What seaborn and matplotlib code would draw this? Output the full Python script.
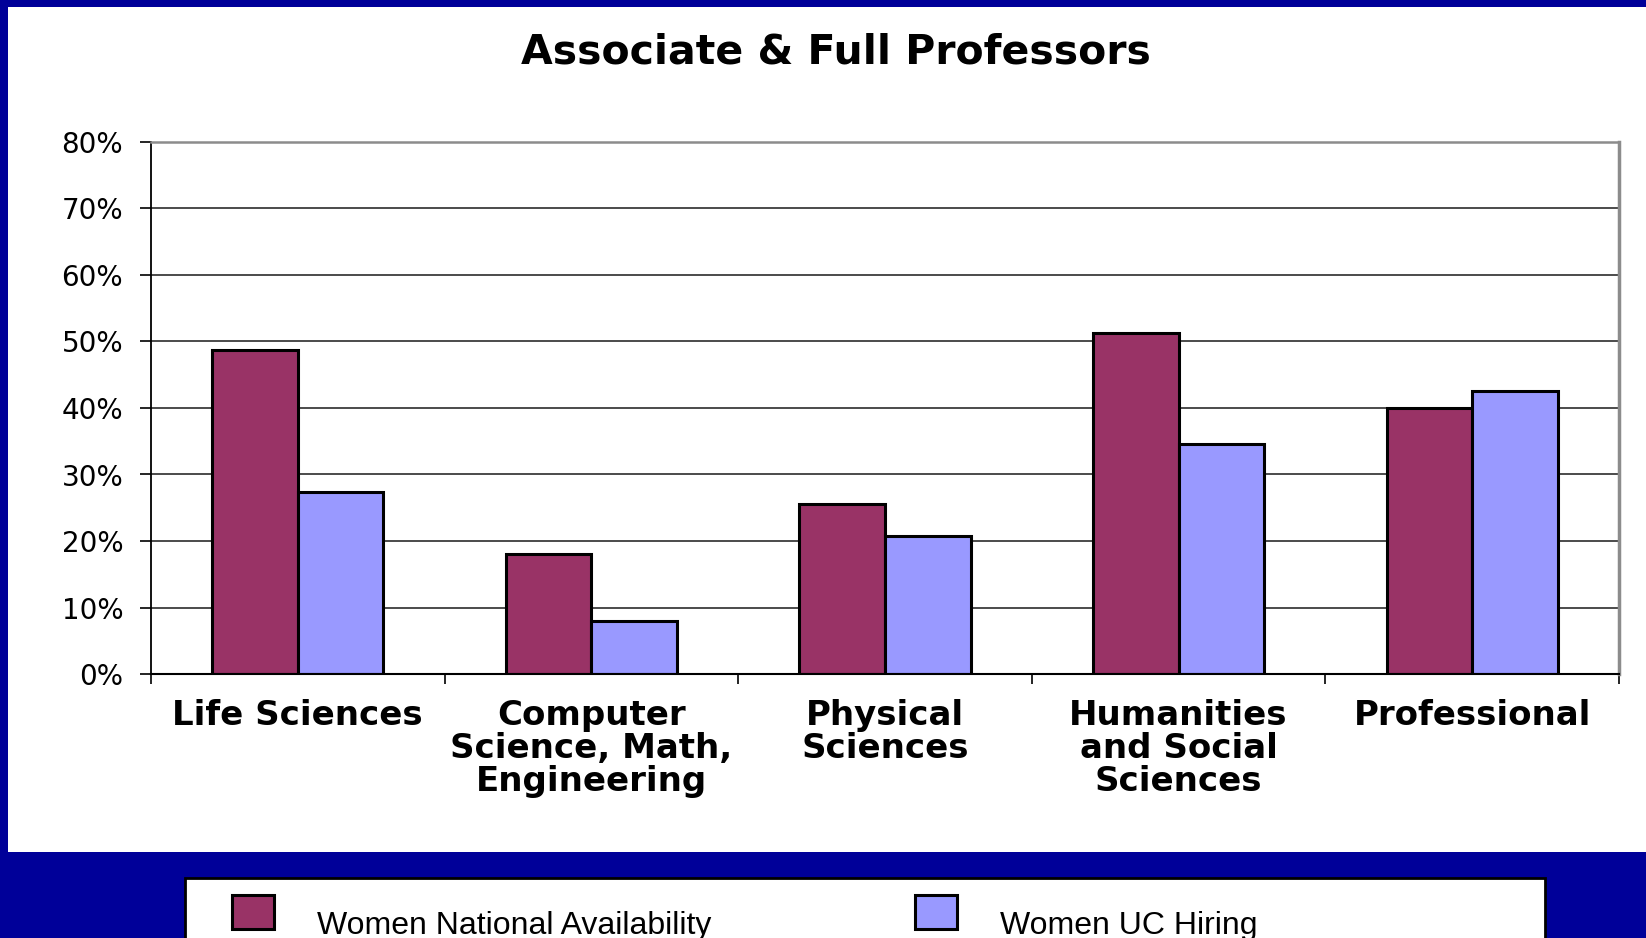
import seaborn as sns
import matplotlib.pyplot as plt
import numpy as np
import pandas as pd
from matplotlib.patches import Rectangle
from matplotlib.legend_handler import HandlerPatch

# data (percent of faculty)
fields = ['Life Sciences', 'Computer\nScience, Math,\nEngineering', 'Physical\nSciences',
          'Humanities\nand Social\nSciences', 'Professional']
national = [48.7, 18.1, 25.6, 51.3, 40.0]
uc_hiring = [27.3, 8.0, 20.8, 34.6, 42.6]
series = ['Women National Availability', 'Women UC Hiring']
colors = ['#993366', '#9999FF']
yticks = [0, 10, 20, 30, 40, 50, 60, 70, 80]

df = pd.DataFrame({'field': fields * 2,
                   'pct': national + uc_hiring,
                   'series': [series[0]] * len(fields) + [series[1]] * len(fields)})

sns.set_theme(style='white')
plt.rcParams['font.family'] = 'DejaVu Sans'
plt.rcParams['text.color'] = 'black'

W, H = 1646, 938
fig = plt.figure(figsize=(W / 100, H / 100), dpi=100, facecolor='#000099')

# white slide panel
fig.patches.append(Rectangle((8 / W, 1 - 852 / H), 1, (852 - 7) / H, transform=fig.transFigure,
                             facecolor='white', edgecolor='none', zorder=-1))

ax = fig.add_axes([151 / W, 1 - 674 / H, (1619 - 151) / W, (674 - 142) / H])
sns.barplot(data=df, x='field', y='pct', hue='series', palette=colors, saturation=1, width=0.583,
            edgecolor='black', linewidth=2.2, ax=ax)
handles, labels = ax.get_legend_handles_labels()
ax.legend_.remove()

ax.set_xlim(-0.5, len(fields) - 0.5)
ax.set_ylim(0, 80)
ax.set_yticks(yticks)
ax.set_yticklabels(['{}%'.format(v) for v in yticks], fontsize=20, color='black')
ax.set_xticks(range(len(fields)))
ax.set_xticklabels(fields, fontsize=24.5, fontweight='bold', color='black', linespacing=1.0)
ax.set_xticks(np.arange(-0.5, len(fields), 1), minor=True)
ax.tick_params(axis='x', which='major', length=0, pad=18)
ax.tick_params(axis='x', which='minor', length=7, width=1.2, color='black', direction='out', bottom=True)
ax.tick_params(axis='y', length=8, width=1.2, color='black', direction='out', pad=12, left=True)
ax.set_xlabel('')
ax.set_ylabel('')

ax.set_axisbelow(True)
ax.yaxis.grid(True, color='#1a1a1a', linewidth=1.1)
ax.xaxis.grid(False)
ax.spines['left'].set_color('black')
ax.spines['left'].set_linewidth(1.3)
ax.spines['bottom'].set_color('black')
ax.spines['bottom'].set_linewidth(1.5)
ax.spines['top'].set_color('#8c8c8c')
ax.spines['top'].set_linewidth(1.8)
ax.spines['right'].set_color('#8c8c8c')
ax.spines['right'].set_linewidth(2.5)

fig.text(836 / W, 1 - 52 / H, 'Associate & Full Professors', ha='center', va='center',
         fontsize=29.5, fontweight='bold', color='black')


# legend swatch sits a little higher than its label
def raised_patch(legend, orig_handle, xdescent, ydescent, width, height, fontsize):
    return Rectangle((-xdescent, -ydescent + 8), width, height)


# legend box running off the bottom of the slide
fig.patches.append(Rectangle((185 / W, -0.05), (1545 - 185) / W, 0.05 + 1 - 878 / H,
                             transform=fig.transFigure, facecolor='white', edgecolor='black',
                             linewidth=2, zorder=1))
leg = fig.legend(handles, labels, loc='upper left', bbox_to_anchor=(232 / W, 1 - 906 / H), ncol=2,
                 frameon=False, borderpad=0, borderaxespad=0, handlelength=1.3, handleheight=1.25,
                 handletextpad=1.35, columnspacing=6.4,
                 handler_map={Rectangle: HandlerPatch(patch_func=raised_patch)},
                 prop={'family': ['Liberation Sans', 'DejaVu Sans'], 'size': 23})
for t in leg.get_texts():
    t.set_color('black')

fig.savefig('out.png', dpi=100, facecolor=fig.get_facecolor())
